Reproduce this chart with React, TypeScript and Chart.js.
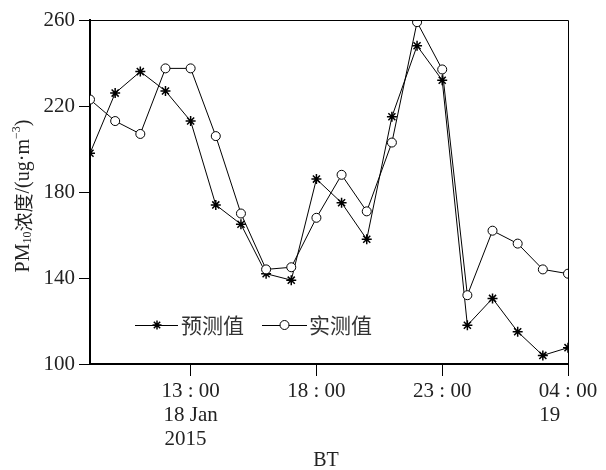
import React, { useEffect, useRef } from "react";
import { Chart, registerables } from "chart.js";

Chart.register(...registerables);

// hourly points from 09:00 (18 Jan 2015) to 04:00 (19 Jan)
const hours = [
  "09:00", "10:00", "11:00", "12:00", "13:00", "14:00", "15:00", "16:00", "17:00", "18:00",
  "19:00", "20:00", "21:00", "22:00", "23:00", "00:00", "01:00", "02:00", "03:00", "04:00",
];
const predicted = [198, 226, 236, 227, 213, 174, 165, 142, 139, 186, 175, 158, 215, 248, 232, 118, 130.5, 115, 104, 107.6];
const actual = [223, 213, 207, 237.5, 237.5, 206, 170, 144, 145, 168, 188, 171, 203, 259, 237, 132, 162, 156, 144, 142];

const xTickIndex = [4, 9, 14, 19];
const xTickLabels = [
  ["13 : 00", "18 Jan", "2015  "],
  ["18 : 00"],
  ["23 : 00"],
  ["04 : 00", "19       "],
];
const yTicks = [100, 140, 180, 220, 260];

const legendNames = ["预测值", "实测值"];

const SERIF = "'Liberation Serif', 'Times New Roman', serif";
const CJK = "'Noto Sans CJK SC', sans-serif";

function drawStar(ctx: CanvasRenderingContext2D, x: number, y: number, r: number) {
  ctx.beginPath();
  ctx.moveTo(x - r, y);
  ctx.lineTo(x + r, y);
  ctx.moveTo(x, y - r);
  ctx.lineTo(x, y + r);
  const d = r * Math.SQRT1_2;
  ctx.moveTo(x - d, y - d);
  ctx.lineTo(x + d, y + d);
  ctx.moveTo(x - d, y + d);
  ctx.lineTo(x + d, y - d);
  ctx.stroke();
}

const extras = {
  id: "extras",
  afterDraw(chart: any) {
    const ctx: CanvasRenderingContext2D = chart.ctx;
    const a = chart.chartArea;
    ctx.save();
    // frame top & right
    ctx.strokeStyle = "#000";
    ctx.lineWidth = 1;
    ctx.beginPath();
    ctx.moveTo(a.left, a.top + 0.5);
    ctx.lineTo(a.right + 0.5, a.top + 0.5);
    ctx.lineTo(a.right + 0.5, a.bottom);
    ctx.stroke();

    // legend
    const ly = 325;
    ctx.lineWidth = 1;
    ctx.strokeStyle = "#000";
    ctx.beginPath();
    ctx.moveTo(135, ly + 0.5);
    ctx.lineTo(178, ly + 0.5);
    ctx.stroke();
    ctx.lineWidth = 1.5;
    drawStar(ctx, 157, ly, 4.5);
    ctx.lineWidth = 1;
    ctx.beginPath();
    ctx.moveTo(262, ly + 0.5);
    ctx.lineTo(307, ly + 0.5);
    ctx.stroke();
    ctx.beginPath();
    ctx.arc(284.5, ly, 4.5, 0, Math.PI * 2);
    ctx.fillStyle = "#fff";
    ctx.fill();
    ctx.stroke();
    ctx.fillStyle = "#333";
    ctx.font = `21px ${CJK}`;
    ctx.textBaseline = "middle";
    ctx.textAlign = "left";
    ctx.fillText(legendNames[0], 181, ly);
    ctx.fillText(legendNames[1], 309, ly);

    // x title
    ctx.font = `20px ${SERIF}`;
    ctx.textAlign = "center";
    ctx.fillStyle = "#222";
    ctx.fillText("BT", 326, 461);

    // y title (rich text, rotated)
    const segs = [
      { t: "PM", f: `20px ${SERIF}`, dy: 0 },
      { t: "10", f: `12px ${SERIF}`, dy: 4 },
      { t: "浓度", f: `19px ${CJK}`, dy: 0 },
      { t: "/(ug", f: `20px ${SERIF}`, dy: 0 },
      { t: "·", f: `20px ${SERIF}`, dy: 0 },
      { t: "m", f: `20px ${SERIF}`, dy: 0 },
      { t: "−3", f: `12px ${SERIF}`, dy: -7 },
      { t: ")", f: `20px ${SERIF}`, dy: 0 },
    ];
    let total = 0;
    const widths = segs.map((s) => {
      ctx.font = s.f;
      const w = ctx.measureText(s.t).width;
      total += w;
      return w;
    });
    ctx.translate(24, 196);
    ctx.rotate(-Math.PI / 2);
    ctx.textAlign = "left";
    ctx.textBaseline = "middle";
    let x = -total / 2;
    segs.forEach((s, i) => {
      ctx.font = s.f;
      ctx.fillText(s.t, x, s.dy);
      x += widths[i];
    });
    ctx.restore();
  },
};

export default function App() {
  const ref = useRef<HTMLCanvasElement | null>(null);
  useEffect(() => {
    if (!ref.current) return;
    const chart = new Chart(ref.current, {
      type: "line",
      data: {
        datasets: [
          {
            label: legendNames[1],
            data: actual.map((v, i) => ({ x: i, y: v })),
            borderColor: "#000",
            borderWidth: 1,
            pointStyle: "circle",
            pointRadius: 4.5,
            pointBorderWidth: 1,
            pointBorderColor: "#000",
            pointBackgroundColor: "#fff",
            tension: 0,
          },
          {
            label: legendNames[0],
            data: predicted.map((v, i) => ({ x: i, y: v })),
            borderColor: "#000",
            borderWidth: 1,
            pointStyle: "star",
            pointRadius: 5,
            pointBorderWidth: 1.5,
            pointBorderColor: "#000",
            pointBackgroundColor: "#000",
            tension: 0,
          },
        ],
      },
      options: {
        responsive: false,
        animation: false,
        layout: { padding: { left: 0, top: 20, right: 38, bottom: 0 } },
        plugins: { legend: { display: false }, tooltip: { enabled: false } },
        scales: {
          x: {
            type: "linear",
            min: 0,
            max: hours.length - 1,
            afterBuildTicks: (s: any) => {
              s.ticks = xTickIndex.map((v) => ({ value: v }));
            },
            afterFit: (s: any) => {
              s.height = 106;
            },
            ticks: {
              autoSkip: false,
              maxRotation: 0,
              padding: 3,
              color: "#222",
              font: { family: SERIF, size: 21, lineHeight: 1.15 },
              callback: (_v: any, i: number) => xTickLabels[i],
            },
            grid: { drawOnChartArea: false, drawTicks: true, tickLength: 12, color: "#000", lineWidth: 1 },
            border: { color: "#000", width: 2 },
          },
          y: {
            min: 100,
            max: 260,
            afterBuildTicks: (s: any) => {
              s.ticks = yTicks.map((v) => ({ value: v }));
            },
            afterFit: (s: any) => {
              s.width = 90;
            },
            ticks: {
              padding: 4,
              color: "#222",
              font: { family: SERIF, size: 21 },
            },
            grid: { drawOnChartArea: false, drawTicks: true, tickLength: 11, color: "#000", lineWidth: 1 },
            border: { color: "#000", width: 2 },
          },
        },
      },
      plugins: [extras],
    });
    return () => chart.destroy();
  }, []);
  return (
    <div style={{ position: "absolute", left: 0, top: 0, width: 606, height: 470, background: "#fff" }}>
      <canvas ref={ref} width={606} height={470} />
    </div>
  );
}
